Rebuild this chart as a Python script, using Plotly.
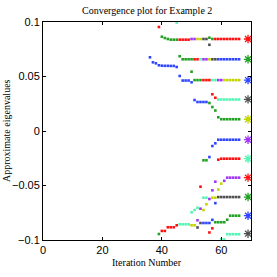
import plotly.graph_objects as go

# ---- data: approximate eigenvalues per iteration, grouped by dot colour ----
red_x = [39, 46, 47, 48, 49, 58, 59, 60, 61, 62, 63, 64, 65, 66, 51, 52, 54, 55, 56,
         57, 58, 59, 60, 61, 62, 63, 64, 65, 66, 53, 40, 41, 42, 43, 44, 45, 56, 57]
red_y = [0.0954, 0.0838, 0.0838, 0.0838, 0.0838, 0.0844, 0.0844, 0.0844, 0.0844, 0.0844,
         0.0844, 0.0844, 0.0844, 0.0844, 0.0658, 0.0658, 0.0467, 0.0467, 0.0467,
         0.0337, 0.0305, -0.0263, -0.0254, -0.0254, -0.0254, -0.0254, -0.0254, -0.0254,
         -0.0254, -0.0511, -0.0917, -0.0917, -0.0883, -0.0883, -0.0883, -0.0865, -0.0931,
         -0.0893]

green_x = [40, 41, 42, 43, 44, 45, 56, 57, 46, 47, 48, 49, 50, 50, 51, 52, 53,
           56, 57, 58, 59, 60, 61, 62, 63, 64, 65, 66, 54, 55, 39, 58, 59, 60, 61, 62,
           63, 64, 65, 66]
green_y = [0.0865, 0.0853, 0.0844, 0.0838, 0.0838, 0.0838, 0.0856, 0.0844, 0.0686, 0.0658,
           0.0658, 0.0658, 0.0658, 0.0544, 0.0467, 0.0467, 0.0467, 0.0257, 0.0220, 0.0188,
           0.0126, 0.0108, 0.0108, 0.0108, 0.0108, 0.0108, 0.0108, 0.0108, -0.0269, -0.0269,
           -0.0945, -0.0837, -0.0837, -0.0837, -0.0837, -0.0814, -0.0777, -0.0777, -0.0777,
           -0.0777]

blue_x = [36, 37, 38, 39, 40, 41, 42, 43, 44, 45, 59, 60, 61, 62, 63, 64, 65, 66,
          46, 47, 48, 49, 50, 51, 52, 53, 54, 55, 57, 58, 59, 60, 61, 62, 63, 64, 65, 66,
          56, 58, 54, 55, 56, 57]
blue_y = [0.0676, 0.0630, 0.0621, 0.0603, 0.0599, 0.0598, 0.0598, 0.0597, 0.0597, 0.0587,
          0.0658, 0.0658, 0.0658, 0.0658, 0.0658, 0.0658, 0.0658, 0.0658,
          0.0505, 0.0463, 0.0463, 0.0463, 0.0447, 0.0284, 0.0266, 0.0266, 0.0266, 0.0266,
          -0.0138, -0.0113, -0.0080, -0.0080, -0.0080, -0.0080, -0.0080, -0.0080, -0.0080,
          -0.0080, -0.0239, -0.0662, -0.0844, -0.0844, -0.0844, -0.0815]

gray_x = [56, 54, 55, 57, 58, 59, 60, 61, 62, 63, 64, 65, 66, 52, 53]
gray_y = [0.0791, 0.0844, 0.0844, 0.0658, 0.0658, -0.0606, -0.0606, -0.0606, -0.0606,
          -0.0606, -0.0606, -0.0606, -0.0606, -0.0885, -0.0844]

yellow_x = [52, 53, 56, 61, 62, 63, 64, 65, 66, 60, 59, 57, 58, 55, 54, 50, 51]
yellow_y = [0.0844, 0.0844, 0.0658, 0.0467, 0.0467, 0.0467, 0.0467, 0.0467, 0.0467,
            -0.0483, -0.0537, -0.0612, -0.0612, -0.0672, -0.0725, -0.0865, -0.0865]

purple_x = [50, 51, 54, 55, 59, 60, 57, 58, 61, 62, 63, 64, 65, 66, 56, 53, 52]
purple_y = [0.0844, 0.0844, 0.0658, 0.0658, 0.0467, 0.0467, -0.0544, -0.0465, -0.0457,
            -0.0428, -0.0428, -0.0428, -0.0428, -0.0428, -0.0624, -0.0713, -0.0819]

cyan_x = [45, 53, 57, 58, 59, 60, 61, 62, 63, 64, 65, 66, 54, 55, 50, 51, 52,
          46, 47, 48, 49, 60, 61, 62, 63, 64, 65, 66]
cyan_y = [0.0995, 0.0658, 0.0467, 0.0467, 0.0289, 0.0289, 0.0289, 0.0289, 0.0289, 0.0289,
          0.0289, 0.0289, -0.0612, -0.0612, -0.0746, -0.0725, -0.0704,
          -0.0856, -0.0856, -0.0856, -0.0856, -0.0995, -0.0995, -0.0947, -0.0947, -0.0947,
          -0.0947, -0.0947]

# exact eigenvalues (asterisks)
exact_x = [69, 69, 69, 69, 69, 69, 69, 69, 69, 69, 69]
exact_y = [0.0844, 0.0658, 0.0467, 0.0290, 0.0108, -0.0080, -0.0254, -0.0428, -0.0606,
           -0.0777, -0.0942]

x_ticks = [0, 20, 40, 60]
y_ticks = [-0.1, -0.05, 0, 0.05, 0.1]

# ---- styles ----
C_RED = "#ff1010"
C_GREEN = "#22a022"
C_BLUE = "#2f45ff"
C_GRAY = "#505050"
C_YELLOW = "#c4d400"
C_PURPLE = "#a035f5"
C_CYAN = "#55f5b5"
cycle = [C_RED, C_GREEN, C_BLUE, C_GRAY, C_YELLOW, C_PURPLE, C_CYAN]

fig = go.Figure()
for xs, ys, col in [(red_x, red_y, C_RED), (green_x, green_y, C_GREEN),
                    (blue_x, blue_y, C_BLUE), (gray_x, gray_y, C_GRAY),
                    (yellow_x, yellow_y, C_YELLOW), (purple_x, purple_y, C_PURPLE),
                    (cyan_x, cyan_y, C_CYAN)]:
    fig.add_trace(go.Scatter(x=xs, y=ys, mode="markers",
                             marker=dict(symbol="square", size=2.6, color=col,
                                         line=dict(width=0)),
                             showlegend=False, hoverinfo="skip"))

ex_colors = [cycle[i % len(cycle)] for i in range(len(exact_y))]
fig.add_trace(go.Scatter(x=exact_x, y=exact_y, mode="markers",
                         marker=dict(symbol="asterisk-open", size=7, color=ex_colors,
                                     line=dict(width=1.3, color=ex_colors)),
                         showlegend=False, hoverinfo="skip"))

serif = "Liberation Serif, Times New Roman, serif"
sans = "Liberation Sans, Arial, Helvetica, sans-serif"

fig.update_layout(
    width=277, height=277,
    margin=dict(l=43, r=26, t=22, b=37),
    paper_bgcolor="white", plot_bgcolor="white",
    font=dict(family=sans, size=11, color="black"),
    xaxis=dict(range=[0, 70], tickvals=x_ticks, ticks="inside", ticklen=3,
               tickcolor="black", showline=True, linecolor="black", linewidth=1,
               mirror="ticks", showgrid=False, zeroline=False,
               tickfont=dict(family=sans, size=11)),
    yaxis=dict(range=[-0.1, 0.1], tickvals=y_ticks, ticks="inside", ticklen=3,
               tickcolor="black", showline=True, linecolor="black", linewidth=1,
               mirror="ticks", showgrid=False, zeroline=False,
               tickfont=dict(family=sans, size=11)),
    annotations=[
        dict(text="Convergence plot for Example 2", xref="paper", yref="paper",
             x=0.5, y=1, yshift=12, xanchor="center", yanchor="middle",
             showarrow=False, font=dict(family=serif, size=10, color="black")),
        dict(text="Iteration Number", xref="paper", yref="paper",
             x=0.5, y=0, yshift=-22, xanchor="center", yanchor="middle",
             showarrow=False, font=dict(family=serif, size=10, color="black")),
        dict(text="Approximate eigenvalues", xref="paper", yref="paper",
             x=0, y=0.5, xshift=-37, xanchor="center", yanchor="middle",
             textangle=-90, showarrow=False,
             font=dict(family=serif, size=10, color="black")),
    ],
)

fig.write_html("out.html", config={"displayModeBar": False},
               post_script="document.body.style.margin='0';"
                           "document.body.style.overflow='hidden';")
